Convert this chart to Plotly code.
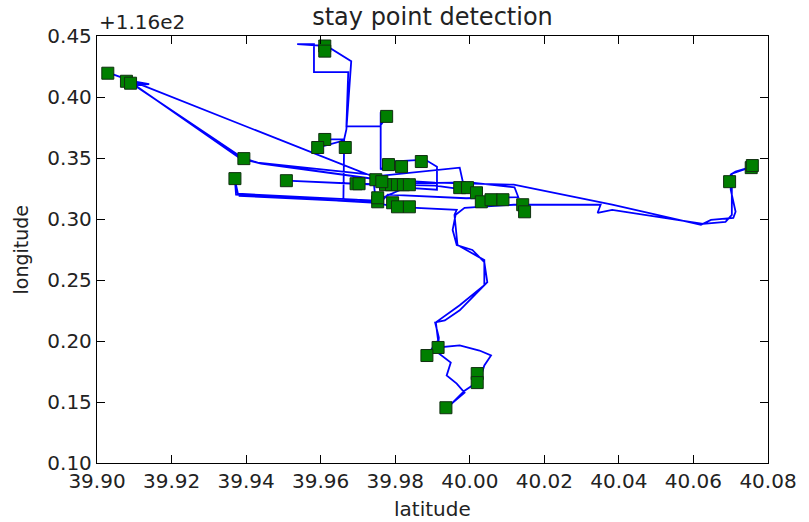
import plotly.graph_objects as go

# GPS trajectory (latitude, longitude - 116)
traj_lat = [39.9016, 39.9034, 39.9095, 39.9140, 39.9100, 39.9389, 39.9431, 39.9537, 39.9735, 39.9775,
            39.9907, 40.0118, 40.0224, 40.0382, 40.0620, 40.0647, 40.0707, 40.0713, 40.0700, 40.0700,
            40.0713, 40.0758, 40.0703, 40.0703, 40.0686, 40.0626, 40.0382, 40.0343, 40.0351, 40.0171,
            40.0118, 39.9986, 39.9962, 39.9954, 39.9965, 40.0007, 40.0039, 40.0047, 40.0012, 39.9973,
            39.9933, 39.9907, 39.9917, 39.9915, 39.9973, 40.0026, 40.0057, 40.0039, 40.0026, 39.9986,
            39.9954, 39.9938, 39.9986, 39.9965, 39.9938, 39.9949, 39.9907, 39.9885, 39.9915, 39.9909,
            39.9973, 40.0039, 40.0039, 39.9967, 39.9959, 39.9965, 39.9801, 39.9748, 39.9373, 39.9370,
            39.9378, 39.9748, 39.9827, 39.9912, 39.9912, 39.9880, 39.9788, 39.9761, 39.9761, 39.9777,
            39.9759, 39.9669, 39.9674, 39.9582, 39.9582, 39.9537, 39.9616, 39.9682, 39.9669, 39.9663,
            39.9611, 39.9592, 39.9663, 39.9661, 39.9695, 39.9748, 39.9743, 39.9508, 39.9695, 39.9907,
            39.9986, 39.9973, 39.9740, 39.9114, 39.9087, 39.9105, 39.9385, 39.9440, 39.9740, 39.9780,
            40.0000, 40.0120, 40.0130, 39.9990, 39.9780, 39.9760, 39.9660, 39.9380]
traj_lon = [0.4228, 0.4195, 0.4129, 0.4105, 0.4097, 0.3504, 0.3462, 0.3429, 0.3364, 0.3322,
            0.3298, 0.3281, 0.3215, 0.3117, 0.2952, 0.2993, 0.3009, 0.3059, 0.3240, 0.3364,
            0.3388, 0.3429, 0.3372, 0.3034, 0.2977, 0.2960, 0.3075, 0.3051, 0.3117, 0.3117,
            0.3117, 0.3092, 0.3034, 0.2911, 0.2787, 0.2746, 0.2647, 0.2482, 0.2375, 0.2252,
            0.2169, 0.2153, 0.2029, 0.1947, 0.1964, 0.1922, 0.1881, 0.1799, 0.1675, 0.1593,
            0.1494, 0.1453, 0.1577, 0.1651, 0.1717, 0.1824, 0.1922, 0.1881, 0.2005, 0.2153,
            0.2293, 0.2458, 0.2663, 0.2787, 0.3034, 0.3075, 0.3100, 0.3133, 0.3199, 0.3322,
            0.3207, 0.3150, 0.3257, 0.3240, 0.3429, 0.3487, 0.3471, 0.3405, 0.3874, 0.3841,
            0.3759, 0.3759, 0.4204, 0.4204, 0.4434, 0.4434, 0.4418, 0.4294, 0.3734, 0.3652,
            0.3652, 0.3586, 0.3644, 0.3158, 0.3158, 0.3141, 0.3281, 0.3314, 0.3289, 0.3273,
            0.3240, 0.3421, 0.3347, 0.4105, 0.4121, 0.4090, 0.3495, 0.3455, 0.3330, 0.3290,
            0.3300, 0.3260, 0.3180, 0.3170, 0.3200, 0.3135, 0.3150, 0.3190]

# detected stay points (latitude, longitude - 116)
stay_lat = [39.9029, 39.9079, 39.9090, 39.9611, 39.9611, 39.9777, 39.9611, 39.9592, 39.9666, 39.9394,
            39.9370, 39.9508, 39.9695, 39.9703, 39.9782, 39.9817, 39.9870, 39.9748, 39.9753, 39.9753,
            39.9774, 39.9790, 39.9806, 39.9822, 39.9838, 39.9764, 39.9793, 39.9806, 39.9838, 39.9973,
            39.9994, 40.0018, 40.0031, 40.0057, 40.0089, 40.0142, 40.0147, 39.9915, 39.9885, 40.0020,
            40.0020, 39.9936, 40.0697, 40.0755, 40.0758]
stay_lon = [0.4195, 0.4129, 0.4113, 0.4418, 0.4376, 0.3841, 0.3652, 0.3586, 0.3586, 0.3495,
            0.3331, 0.3314, 0.3289, 0.3289, 0.3446, 0.3429, 0.3471, 0.3322, 0.3141, 0.3174,
            0.3281, 0.3281, 0.3281, 0.3281, 0.3281, 0.3306, 0.3133, 0.3100, 0.3100, 0.3257,
            0.3257, 0.3215, 0.3141, 0.3158, 0.3158, 0.3117, 0.3059, 0.1947, 0.1881, 0.1733,
            0.1659, 0.1453, 0.3306, 0.3421, 0.3438]

x_ticks = [39.90, 39.92, 39.94, 39.96, 39.98, 40.00, 40.02, 40.04, 40.06, 40.08]
y_ticks = [0.10, 0.15, 0.20, 0.25, 0.30, 0.35, 0.40, 0.45]

FONT = "DejaVu Sans"
TXT = "#222222"

fig = go.Figure()
fig.add_trace(go.Scatter(x=traj_lat, y=traj_lon, mode="lines",
                         line=dict(color="#0000ff", width=1.8), hoverinfo="skip",
                         showlegend=False))
fig.add_trace(go.Scatter(x=stay_lat, y=stay_lon, mode="markers",
                         marker=dict(symbol="square", size=12, color="#007f00",
                                     line=dict(color="#103010", width=1)),
                         showlegend=False))

axis_common = dict(showline=True, linecolor="black", linewidth=1.3, mirror="ticks",
                   ticks="inside", ticklen=8, tickwidth=1, tickcolor="black",
                   showgrid=False, zeroline=False,
                   tickfont=dict(family=FONT, size=20, color=TXT))

fig.update_layout(
    width=809, height=522,
    margin=dict(l=97, r=31, t=36, b=59),
    paper_bgcolor="white", plot_bgcolor="white",
    font=dict(family=FONT, color=TXT),
    title=dict(text="stay point detection", xref="paper", x=0.5, xanchor="center",
               yref="container", y=1 - 17 / 522, yanchor="middle",
               font=dict(family=FONT, size=24, color=TXT)),
    xaxis=dict(range=[39.90, 40.08], tickvals=x_ticks, tickformat=".2f", **axis_common),
    yaxis=dict(range=[0.10, 0.45], tickvals=y_ticks, tickformat=".2f", **axis_common),
    annotations=[
        dict(text="+1.16e2", xref="paper", yref="paper", x=0, y=1, xanchor="left",
             yanchor="bottom", yshift=0, showarrow=False,
             font=dict(family=FONT, size=20, color=TXT)),
        dict(text="latitude", xref="paper", yref="paper", x=0.5, y=0, xanchor="center",
             yanchor="middle", yshift=-46, showarrow=False,
             font=dict(family=FONT, size=20, color=TXT)),
        dict(text="longitude", xref="paper", yref="paper", x=0, y=0.5, xanchor="center",
             yanchor="middle", xshift=-77, textangle=-90, showarrow=False,
             font=dict(family=FONT, size=19, color=TXT)),
    ],
)

fig.write_html("out.html", config={"displayModeBar": False},
               post_script="document.body.style.margin='0';document.body.style.padding='0';")
